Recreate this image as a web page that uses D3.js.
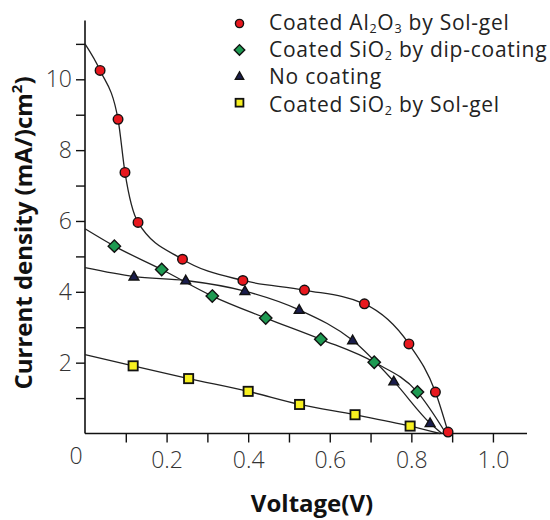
<!DOCTYPE html>
<html>
<head>
<meta charset="utf-8">
<script src="https://cdn.jsdelivr.net/npm/d3@7"></script>
<style>
  html, body { margin: 0; padding: 0; background: #fff; }
  svg { display: block; }
</style>
</head>
<body>
<svg id="chart" width="550" height="520"></svg>
<script>
// ---- data ----
const seriesNames = [
  "Coated Al2O3 by Sol-gel",
  "Coated SiO2 by dip-coating",
  "No coating",
  "Coated SiO2 by Sol-gel"
];
// measured points (voltage V, current density mA/cm2)
const al2o3Voltage = [0.037, 0.081, 0.098, 0.130, 0.239, 0.387, 0.538, 0.685, 0.794, 0.859, 0.890];
const al2o3Current = [10.25, 8.87, 7.37, 5.96, 4.92, 4.32, 4.05, 3.66, 2.53, 1.17, 0.04];
const sio2DipVoltage = [0.072, 0.188, 0.312, 0.443, 0.578, 0.709, 0.815];
const sio2DipCurrent = [5.29, 4.63, 3.88, 3.26, 2.66, 2.01, 1.17];
const noCoatVoltage = [0.120, 0.247, 0.392, 0.525, 0.656, 0.757, 0.846];
const noCoatCurrent = [4.43, 4.32, 4.02, 3.49, 2.63, 1.47, 0.29];
const sio2SolVoltage = [0.118, 0.254, 0.400, 0.526, 0.662, 0.797];
const sio2SolCurrent = [1.91, 1.55, 1.19, 0.82, 0.53, 0.21];
// fitted-curve end points: current at V=0 and voltage at J=0
const curveJsc = [11.0, 5.78, 4.68, 2.23];
const curveVoc = [0.890, 0.885, 0.875, 0.870];
// axes
const yTicks = [1, 2, 3, 4, 5, 6, 7, 8, 9, 10, 11];
const yTickLabels = ["", "2", "", "4", "", "6", "", "8", "", "10", ""];
const xTicks = [0.1, 0.2, 0.3, 0.4, 0.5, 0.6, 0.7, 0.8, 0.9, 1.0];
const xTickLabels = ["", "0.2", "", "0.4", "", "0.6", "", "0.8", "", "1.0"];
const xTitle = "Voltage(V)";

// ---- drawing ----
const svg = d3.select("#chart");
const x = d3.scaleLinear().domain([0, 1.0835]).range([85, 527]);
const y = d3.scaleLinear().domain([0, 11.66]).range([433.5, 20.5]);

const tickFont = "'Open Sans', 'Noto Sans', sans-serif";
const textColor = "#333";

// y axis
const yAxis = d3.axisLeft(y).tickValues(yTicks).tickSize(9).tickSizeOuter(0)
  .tickFormat((d, i) => yTickLabels[i]).tickPadding(6);
const gy = svg.append("g").attr("transform", `translate(${x(0)},0)`).call(yAxis);
gy.select(".domain").attr("stroke", "#111").attr("stroke-width", 1.6)
  .attr("d", `M0,${y(0)}V${y(11.66)}`);
gy.selectAll(".tick line").attr("stroke", "#111").attr("stroke-width", 1.4);
gy.selectAll(".tick text").attr("font-family", tickFont).attr("font-weight", 300)
  .attr("font-size", 23).attr("fill", textColor).attr("x", -13);

// x axis (ticks point downward)
const xAxis = d3.axisBottom(x).tickValues(xTicks).tickSize(9).tickSizeOuter(0)
  .tickFormat((d, i) => xTickLabels[i]).tickPadding(9);
const gx = svg.append("g").attr("transform", `translate(0,${y(0)})`).call(xAxis);
gx.select(".domain").attr("stroke", "#111").attr("stroke-width", 1.6)
  .attr("d", `M${x(0)},0H${x(1.0835)}`);
gx.selectAll(".tick line").attr("stroke", "#111").attr("stroke-width", 1.4);
gx.selectAll(".tick text").attr("font-family", tickFont).attr("font-weight", 300)
  .attr("font-size", 23).attr("fill", textColor);

// origin label
svg.append("text").attr("x", x(0) - 9).attr("y", y(0) + 30)
  .attr("text-anchor", "middle").attr("font-family", tickFont).attr("font-weight", 300)
  .attr("font-size", 23).attr("fill", textColor).text("0");

// axis titles
svg.append("text").attr("x", 312).attr("y", 512).attr("text-anchor", "middle")
  .attr("font-family", "'Open Sans', sans-serif").attr("font-weight", 700)
  .attr("font-size", 24).attr("fill", "#111").text(xTitle);

const yt = svg.append("text").attr("transform", "translate(32,233) rotate(-90)")
  .attr("text-anchor", "middle").attr("font-family", "'Open Sans', sans-serif")
  .attr("font-weight", 700).attr("font-size", 24).attr("fill", "#111");
yt.append("tspan").text("Current density (mA/)cm");
yt.append("tspan").attr("font-size", 15).attr("dy", -10).text("2");
yt.append("tspan").attr("dy", 10).text(")");

// series
const series = [
  { v: al2o3Voltage, j: al2o3Current, shape: "circle", fill: "#e8181e" },
  { v: sio2DipVoltage, j: sio2DipCurrent, shape: "diamond", fill: "#1e9a52" },
  { v: noCoatVoltage, j: noCoatCurrent, shape: "triangle", fill: "#1a1d4c" },
  { v: sio2SolVoltage, j: sio2SolCurrent, shape: "square", fill: "#f7f020" }
];

const line = d3.line().x(d => x(d[0])).y(d => y(d[1])).curve(d3.curveMonotoneX);

series.forEach((s, i) => {
  const pts = s.v.map((v, k) => [v, s.j[k]]);
  const curvePts = [[0, curveJsc[i]], ...pts];
  if (pts[pts.length - 1][0] < curveVoc[i]) curvePts.push([curveVoc[i], 0]);
  svg.append("path").datum(curvePts).attr("d", line)
    .attr("fill", "none").attr("stroke", "#222").attr("stroke-width", 1.3);
});

function marker(g, shape, fill, cx, cy, s) {
  let el;
  if (shape === "circle") {
    el = g.append("circle").attr("cx", cx).attr("cy", cy).attr("r", 4.8 * s);
  } else if (shape === "diamond") {
    const h = 6.2 * s;
    el = g.append("path").attr("d", `M${cx},${cy - h}L${cx + h},${cy}L${cx},${cy + h}L${cx - h},${cy}Z`);
  } else if (shape === "triangle") {
    const w = 4.9 * s, t = 5.2 * s, b = 3.4 * s;
    el = g.append("path").attr("d", `M${cx},${cy - t}L${cx + w},${cy + b}L${cx - w},${cy + b}Z`);
  } else {
    const h = 4.6 * s;
    el = g.append("rect").attr("x", cx - h).attr("y", cy - h).attr("width", 2 * h).attr("height", 2 * h);
  }
  el.attr("fill", fill).attr("stroke", "#111").attr("stroke-width", shape === "square" ? 1.8 : 1.4);
}

series.forEach(s => {
  const g = svg.append("g");
  s.v.forEach((v, k) => marker(g, s.shape, s.fill, x(v), y(s.j[k]), 1));
});

// legend
const legend = svg.append("g");
const legendParts = [
  [["Coated Al", 0], ["2", 1], ["O", 0], ["3", 1], [" by Sol-gel", 0]],
  [["Coated SiO", 0], ["2", 1], [" by dip-coating", 0]],
  [["No coating", 0]],
  [["Coated SiO", 0], ["2", 1], [" by Sol-gel", 0]]
];
series.forEach((s, i) => {
  const cy = 23.5 + i * 26.4;
  marker(legend, s.shape, s.fill, 239.5, cy, 0.85);
  const t = legend.append("text").attr("x", 269).attr("y", 29.5 + i * 27.4)
    .attr("font-family", "'Open Sans', sans-serif").attr("font-size", 21)
    .attr("letter-spacing", 0.75)
    .attr("fill", "#222").attr("data-name", seriesNames[i]);
  let shifted = false;
  legendParts[i].forEach(([str, sub]) => {
    const ts = t.append("tspan").text(str);
    if (sub) { ts.attr("font-size", 12.5).attr("dy", shifted ? 0 : 3.5); shifted = true; }
    else if (shifted) { ts.attr("dy", -3.5); shifted = false; }
  });
});
</script>
</body>
</html>
